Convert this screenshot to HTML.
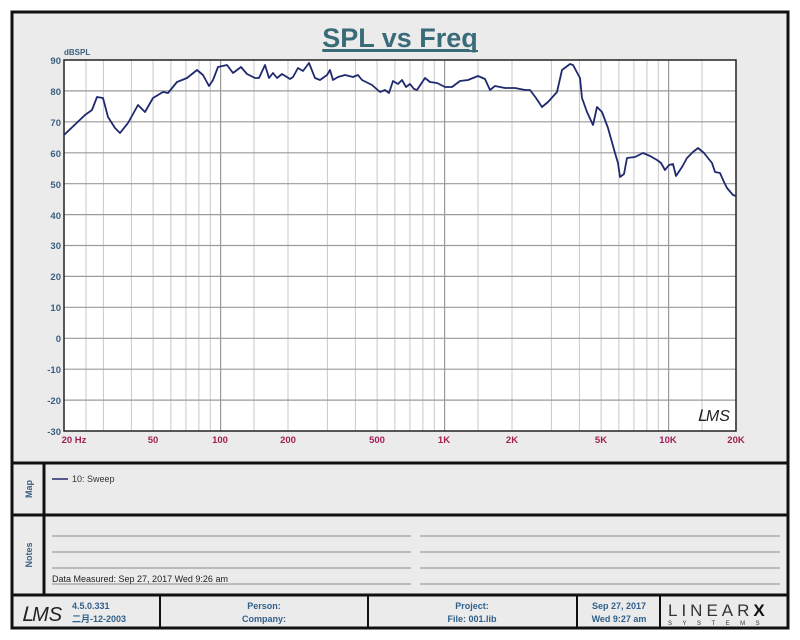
<!DOCTYPE html>
<html><head><meta charset="utf-8"><style>
html,body{margin:0;padding:0;background:#fff;width:800px;height:640px;overflow:hidden}
svg{display:block}
text{font-family:"Liberation Sans","Noto Sans CJK SC",sans-serif}
</style></head><body>
<svg width="800" height="640" viewBox="0 0 800 640" xmlns="http://www.w3.org/2000/svg">
<rect x="12" y="12" width="776" height="616" fill="#ebebeb" stroke="#111" stroke-width="3"/>
<text x="400" y="47" text-anchor="middle" font-size="27" font-weight="bold" fill="#3a6b78" text-decoration="underline">SPL vs Freq</text>
<line x1="323" y1="51" x2="478" y2="51" stroke="#3a6b78" stroke-width="2"/>
<rect x="64" y="60" width="672" height="371" fill="#fff"/>
<g stroke="#c8c8c8" stroke-width="1">
<line x1="103.4" y1="60" x2="103.4" y2="431"/><line x1="131.4" y1="60" x2="131.4" y2="431"/><line x1="153.1" y1="60" x2="153.1" y2="431"/><line x1="170.9" y1="60" x2="170.9" y2="431"/><line x1="185.9" y1="60" x2="185.9" y2="431"/><line x1="198.9" y1="60" x2="198.9" y2="431"/><line x1="210.3" y1="60" x2="210.3" y2="431"/>
<line x1="288" y1="60" x2="288" y2="431"/><line x1="327.4" y1="60" x2="327.4" y2="431"/><line x1="355.4" y1="60" x2="355.4" y2="431"/><line x1="377.1" y1="60" x2="377.1" y2="431"/><line x1="394.9" y1="60" x2="394.9" y2="431"/><line x1="409.9" y1="60" x2="409.9" y2="431"/><line x1="422.9" y1="60" x2="422.9" y2="431"/><line x1="434.3" y1="60" x2="434.3" y2="431"/>
<line x1="512" y1="60" x2="512" y2="431"/><line x1="551.4" y1="60" x2="551.4" y2="431"/><line x1="579.4" y1="60" x2="579.4" y2="431"/><line x1="601.1" y1="60" x2="601.1" y2="431"/><line x1="618.9" y1="60" x2="618.9" y2="431"/><line x1="633.9" y1="60" x2="633.9" y2="431"/><line x1="646.9" y1="60" x2="646.9" y2="431"/><line x1="658.3" y1="60" x2="658.3" y2="431"/>
<line x1="86" y1="60" x2="86" y2="431"/><line x1="254" y1="60" x2="254" y2="431"/><line x1="478" y1="60" x2="478" y2="431"/><line x1="702" y1="60" x2="702" y2="431"/>
</g>
<g stroke="#9a9a9a" stroke-width="1.2">
<line x1="220.6" y1="60" x2="220.6" y2="431"/><line x1="444.6" y1="60" x2="444.6" y2="431"/><line x1="668.6" y1="60" x2="668.6" y2="431"/>
<line x1="64" y1="90.9" x2="736" y2="90.9"/><line x1="64" y1="121.8" x2="736" y2="121.8"/><line x1="64" y1="152.8" x2="736" y2="152.8"/><line x1="64" y1="183.7" x2="736" y2="183.7"/><line x1="64" y1="214.6" x2="736" y2="214.6"/><line x1="64" y1="245.5" x2="736" y2="245.5"/><line x1="64" y1="276.4" x2="736" y2="276.4"/><line x1="64" y1="307.3" x2="736" y2="307.3"/><line x1="64" y1="338.3" x2="736" y2="338.3"/><line x1="64" y1="369.2" x2="736" y2="369.2"/><line x1="64" y1="400.1" x2="736" y2="400.1"/>
</g>
<rect x="64" y="60" width="672" height="371" fill="none" stroke="#222" stroke-width="1.5"/>
<polyline fill="none" stroke="#1f2a6e" stroke-width="1.8" stroke-linejoin="round" points="64,135 85,115 92,110 97,97 103,98 108,117 115,128 120,133 128,123 138,105 145,112 153,98 163,92 168,93 177,82 187,78 197,70 203,75 209,86 213,80 218,67 227,65 233,73 241,67 247,74 255,78 259,78 265,65 269,78 273,73 277,78 282,74 290,79 293,77 298,68 303,71 309,63 315,78 320,80 327,75 330,70 333,80 338,77 345,75 353,77 358,75 362,80 372,85 380,92 385,90 389,93 393,81 398,84 402,80 406,87 410,84 414,89 417,90 425,78 430,82 437,83 445,87 452,87 460,81 468,80 478,76 485,79 490,90 495,86 505,88 515,88 525,90 530,90 536,98 542,107 548,102 557,92 562,70 570,64 573,65 580,78 582,98 587,112 593,125 597,107 602,112 608,128 615,153 618,163 620,177 624,174 627,158 635,157 643,153 650,156 657,160 661,163 665,170 669,165 673,164 676,176 682,167 687,158 693,152 698,148 704,153 712,163 715,172 720,173 724,182 727,188 733,195 736,196"/>
<text x="697" y="421" font-size="16" font-style="italic" fill="#222" font-family="Liberation Serif">ⅬMS</text>
<text x="64" y="55" font-size="8" font-weight="bold" fill="#3a5f80">dBSPL</text>
<g font-size="9.5" font-weight="bold" fill="#3a5f80" text-anchor="end">
<text x="61" y="64">90</text><text x="61" y="95">80</text><text x="61" y="126">70</text><text x="61" y="157">60</text><text x="61" y="188">50</text><text x="61" y="219">40</text><text x="61" y="249">30</text><text x="61" y="280">20</text><text x="61" y="311">10</text><text x="61" y="342">0</text><text x="61" y="373">-10</text><text x="61" y="404">-20</text><text x="61" y="435">-30</text>
</g>
<g font-size="9.5" font-weight="bold" fill="#a02055" text-anchor="middle">
<text x="74" y="443">20 Hz</text><text x="153" y="443">50</text><text x="220" y="443">100</text><text x="288" y="443">200</text><text x="377" y="443">500</text><text x="444" y="443">1K</text><text x="512" y="443">2K</text><text x="601" y="443">5K</text><text x="668" y="443">10K</text><text x="736" y="443">20K</text>
</g>
<g stroke="#111" stroke-width="3" fill="none">
<line x1="12" y1="463" x2="788" y2="463"/><line x1="12" y1="515" x2="788" y2="515"/><line x1="12" y1="595" x2="788" y2="595"/>
<line x1="44" y1="463" x2="44" y2="595"/>
</g>
<text transform="translate(32,489) rotate(-90)" text-anchor="middle" font-size="9" font-weight="bold" fill="#3a5f80">Map</text>
<text transform="translate(32,555) rotate(-90)" text-anchor="middle" font-size="9" font-weight="bold" fill="#3a5f80">Notes</text>
<line x1="52" y1="479" x2="68" y2="479" stroke="#1f2a6e" stroke-width="1.5"/>
<text x="72" y="482" font-size="9" fill="#333">10: Sweep</text>
<g stroke="#888" stroke-width="1">
<line x1="52" y1="536" x2="411" y2="536"/><line x1="52" y1="552" x2="411" y2="552"/><line x1="52" y1="568" x2="411" y2="568"/><line x1="52" y1="584" x2="411" y2="584"/>
<line x1="420" y1="536" x2="780" y2="536"/><line x1="420" y1="552" x2="780" y2="552"/><line x1="420" y1="568" x2="780" y2="568"/><line x1="420" y1="584" x2="780" y2="584"/>
</g>
<text x="52" y="582" font-size="9" fill="#222">Data Measured: Sep 27, 2017  Wed  9:26 am</text>
<g stroke="#111" stroke-width="2">
<line x1="160" y1="595" x2="160" y2="628"/><line x1="368" y1="595" x2="368" y2="628"/><line x1="577" y1="595" x2="577" y2="628"/><line x1="660" y1="595" x2="660" y2="628"/>
</g>
<text x="21" y="621" font-size="20" font-style="italic" fill="#222" font-family="Liberation Serif">ⅬMS</text>
<g font-size="9" fill="#2f5f8a" font-weight="bold">
<text x="72" y="609">4.5.0.331</text><text x="72" y="622">二月-12-2003</text>
<text x="264" y="609" text-anchor="middle">Person:</text><text x="264" y="622" text-anchor="middle">Company:</text>
<text x="472" y="609" text-anchor="middle">Project:</text><text x="472" y="622" text-anchor="middle">File: 001.lib</text>
<text x="619" y="609" text-anchor="middle">Sep 27, 2017</text><text x="619" y="622" text-anchor="middle">Wed  9:27 am</text>
</g>
<text x="668" y="616" font-size="17" fill="#333" font-family="Liberation Serif" letter-spacing="4">LINEAR<tspan font-family="Liberation Sans" font-weight="bold" fill="#111">X</tspan></text>
<text x="668" y="625" font-size="6" fill="#333" letter-spacing="10.5">SYSTEMS</text>
</svg>
</body></html>
